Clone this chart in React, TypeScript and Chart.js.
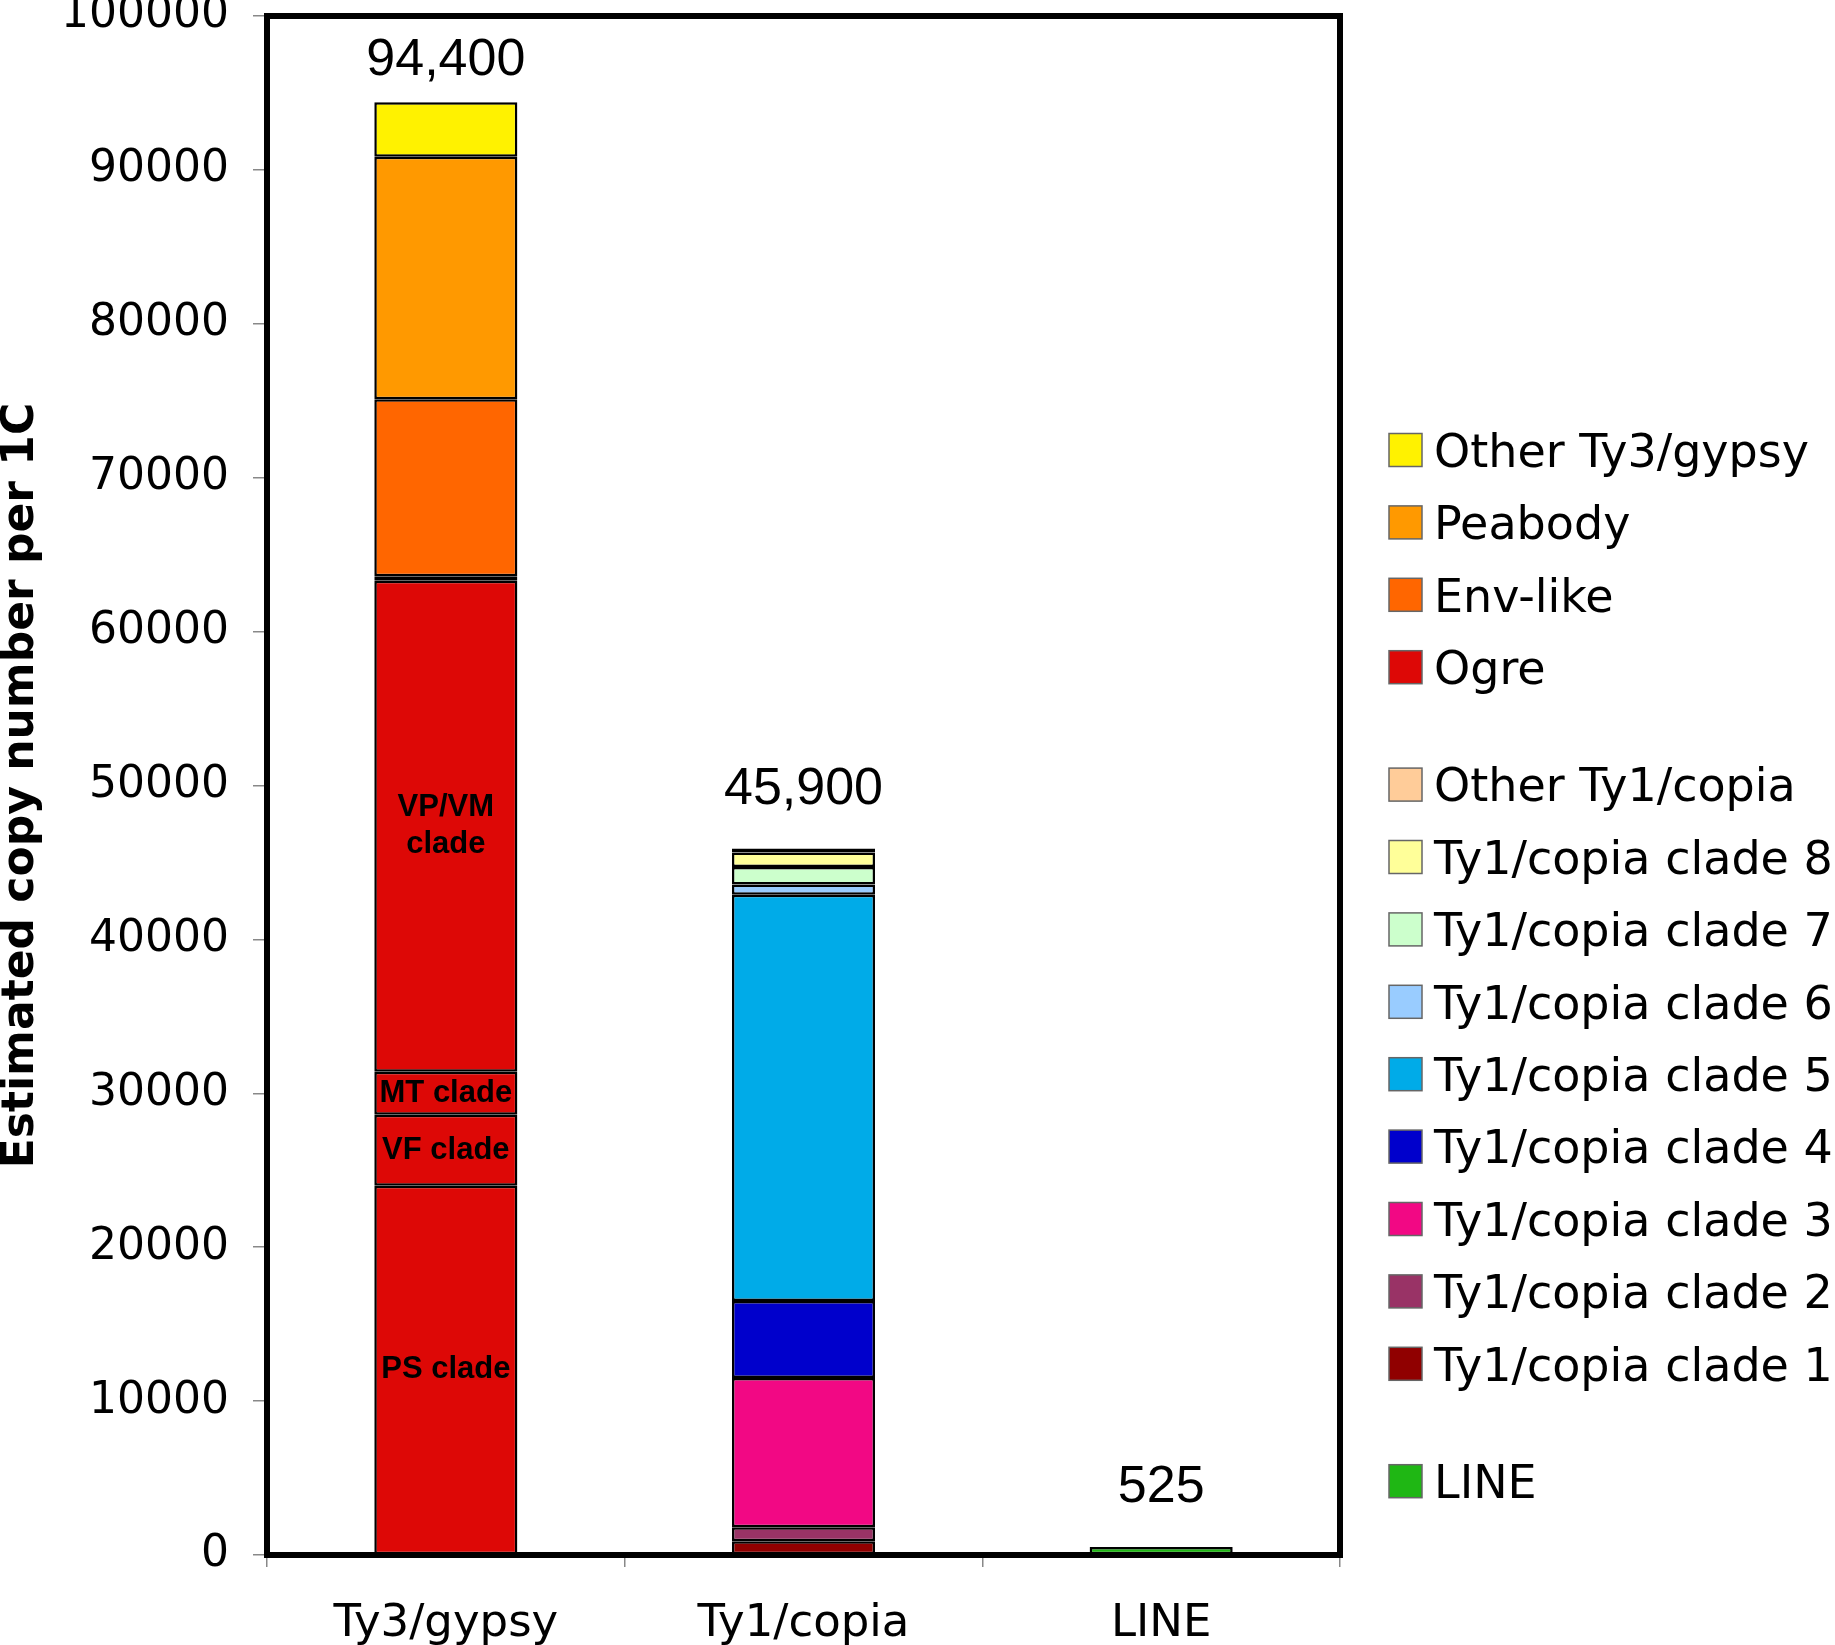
import React, { useEffect, useRef } from 'react';
import { Chart, registerables } from 'chart.js';

Chart.register(...registerables);

const categories = ['Ty3/gypsy', 'Ty1/copia', 'LINE'];

// Ogre sub-clades, bottom to top (the last one is an unlabelled sliver)
const ogreClades = ['PS clade', 'VF clade', 'MT clade', 'VP/VM\nclade', ''];
const ogreCopies = [24000, 4600, 2800, 31900, 300];

const gypsyFamilies = ['Env-like', 'Peabody', 'Other Ty3/gypsy'];
const gypsyCopies = [11500, 15750, 3550];

const copiaFamilies = [
  'Ty1/copia clade 1',
  'Ty1/copia clade 2',
  'Ty1/copia clade 3',
  'Ty1/copia clade 4',
  'Ty1/copia clade 5',
  'Ty1/copia clade 6',
  'Ty1/copia clade 7',
  'Ty1/copia clade 8',
  'Other Ty1/copia',
];
const copiaCopies = [900, 900, 9700, 5000, 26400, 660, 1140, 940, 260];

const lineFamilies = ['LINE'];
const lineCopies = [525];

// colours
const ogreColor = '#DD0806';
const gypsyColors = ['#FF6600', '#FF9900', '#FFF200'];
const copiaColors = ['#900000', '#993366', '#F20884', '#0000CC', '#00ABE8', '#99CCFF', '#CCFFCC', '#FFFF99', '#FFCC99'];
const lineColors = ['#1FB714'];

const legendGroups = [
  ['Other Ty3/gypsy', 'Peabody', 'Env-like', 'Ogre'],
  [
    'Other Ty1/copia',
    'Ty1/copia clade 8',
    'Ty1/copia clade 7',
    'Ty1/copia clade 6',
    'Ty1/copia clade 5',
    'Ty1/copia clade 4',
    'Ty1/copia clade 3',
    'Ty1/copia clade 2',
    'Ty1/copia clade 1',
  ],
  ['LINE'],
];

const colorOf: Record<string, string> = { Ogre: ogreColor };
gypsyFamilies.forEach((n, i) => (colorOf[n] = gypsyColors[i]));
copiaFamilies.forEach((n, i) => (colorOf[n] = copiaColors[i]));
lineFamilies.forEach((n, i) => (colorOf[n] = lineColors[i]));

const segment = (label: string, value: number, cat: number, color: string, clade = '') => ({
  label,
  clade,
  data: categories.map((_, i) => (i === cat ? value : null)),
  backgroundColor: color,
  borderColor: '#000',
  borderWidth: 2.5,
  borderSkipped: false,
  inflateAmount: 0,
  stack: 'all',
});

const frame = {
  id: 'frame',
  afterDatasetsDraw(chart: any) {
    const { ctx, chartArea: a } = chart;
    ctx.save();
    ctx.strokeStyle = '#000';
    ctx.lineWidth = 6;
    ctx.strokeRect(a.left, a.top, a.right - a.left, a.bottom - a.top);
    ctx.restore();
  },
};

const cladeLabels = {
  id: 'cladeLabels',
  afterDatasetsDraw(chart: any) {
    const { ctx } = chart;
    ctx.save();
    ctx.font = 'bold 31px "Liberation Sans", Arial, sans-serif';
    ctx.fillStyle = '#000';
    ctx.textAlign = 'center';
    ctx.textBaseline = 'middle';
    chart.data.datasets.forEach((ds: any, di: number) => {
      if (!ds.clade) return;
      const bar = chart.getDatasetMeta(di).data[0];
      const { x, y, base } = bar.getProps(['x', 'y', 'base'], true);
      const lines = ds.clade.split('\n');
      const mid = (y + base) / 2;
      lines.forEach((t: string, li: number) => {
        ctx.fillText(t, x, mid + (li - (lines.length - 1) / 2) * 37);
      });
    });
    ctx.restore();
  },
};

const totals = {
  id: 'totals',
  afterDatasetsDraw(chart: any) {
    const { ctx, chartArea } = chart;
    ctx.save();
    ctx.font = '52px "Liberation Sans", Arial, sans-serif';
    ctx.fillStyle = '#000';
    ctx.textAlign = 'center';
    ctx.textBaseline = 'alphabetic';
    categories.forEach((_, ci) => {
      let sum = 0;
      let top = Infinity;
      let cx = 0;
      chart.data.datasets.forEach((ds: any, di: number) => {
        const v = ds.data[ci];
        if (v == null) return;
        sum += v;
        const el = chart.getDatasetMeta(di).data[ci];
        const { x, y } = el.getProps(['x', 'y'], true);
        cx = x;
        top = Math.min(top, y);
      });
      const yText = Math.max(top - 45, chartArea.top + 59);
      ctx.fillText(sum.toLocaleString('en-US'), cx, yText);
    });
    ctx.restore();
  },
};

const sideLegend = {
  id: 'sideLegend',
  afterDraw(chart: any) {
    const { ctx, chartArea } = chart;
    const boxX = chartArea.right + 49;
    const box = 33;
    const rowH = 72.4;
    const groupGap = 45;
    let cy = 450;
    ctx.save();
    ctx.font = '46px "DejaVu Sans", Verdana, sans-serif';
    ctx.textAlign = 'left';
    ctx.textBaseline = 'alphabetic';
    legendGroups.forEach((group) => {
      group.forEach((name) => {
        ctx.fillStyle = colorOf[name];
        ctx.fillRect(boxX, cy - box / 2, box, box);
        ctx.strokeStyle = '#666';
        ctx.lineWidth = 1.5;
        ctx.strokeRect(boxX, cy - box / 2, box, box);
        ctx.fillStyle = '#000';
        ctx.fillText(name, boxX + 45, cy + 16.7);
        cy += rowH;
      });
      cy += groupGap;
    });
    ctx.restore();
  },
};

const App: React.FC = () => {
  const canvasRef = useRef<HTMLCanvasElement>(null);

  useEffect(() => {
    if (!canvasRef.current) return;
    Chart.defaults.font.family = '"DejaVu Sans", Verdana, sans-serif';

    const datasets = [
      ...ogreClades.map((c, i) => segment('Ogre', ogreCopies[i], 0, ogreColor, c)),
      ...gypsyFamilies.map((n, i) => segment(n, gypsyCopies[i], 0, gypsyColors[i])),
      ...copiaFamilies.map((n, i) => segment(n, copiaCopies[i], 1, copiaColors[i])),
      ...lineFamilies.map((n, i) => segment(n, lineCopies[i], 2, lineColors[i])),
    ];

    const chart = new Chart(canvasRef.current, {
      type: 'bar',
      data: { labels: categories, datasets: datasets as any },
      options: {
        animation: false,
        responsive: true,
        maintainAspectRatio: false,
        devicePixelRatio: 1,
        layout: { padding: { left: 0, top: 16, right: 495, bottom: 0 } },
        datasets: { bar: { barPercentage: 0.4, categoryPercentage: 1 } },
        plugins: {
          legend: { display: false },
          tooltip: { enabled: false },
        },
        scales: {
          x: {
            stacked: true,
            afterFit: (s: any) => {
              s.height = 90;
              s.paddingLeft = 0;
              s.paddingRight = 0;
            },
            grid: { offset: true, drawOnChartArea: false, tickLength: 12, color: '#888', lineWidth: 1.5 },
            border: { display: false },
            ticks: { color: '#000', font: { size: 45 }, padding: 30 },
          },
          y: {
            stacked: true,
            min: 0,
            max: 100000,
            afterFit: (s: any) => {
              s.width = 267;
              s.paddingTop = 0;
              s.paddingBottom = 0;
            },
            grid: { drawOnChartArea: false, tickLength: 14, color: '#888', lineWidth: 1.5 },
            border: { display: false },
            ticks: { stepSize: 10000, color: '#000', font: { size: 44 }, padding: 24, callback: (v: any) => String(v) },
            title: {
              display: true,
              text: 'Estimated copy number per 1C',
              color: '#000',
              font: { size: 44, weight: 'bold', lineHeight: 1 },
              padding: 0,
            },
          },
        },
      } as any,
      plugins: [frame, cladeLabels, totals, sideLegend],
    });

    return () => chart.destroy();
  }, []);

  return (
    <div style={{ position: 'absolute', left: 0, top: 0, width: 1835, height: 1645, background: '#fff' }}>
      <canvas ref={canvasRef}></canvas>
    </div>
  );
};

export default App;
